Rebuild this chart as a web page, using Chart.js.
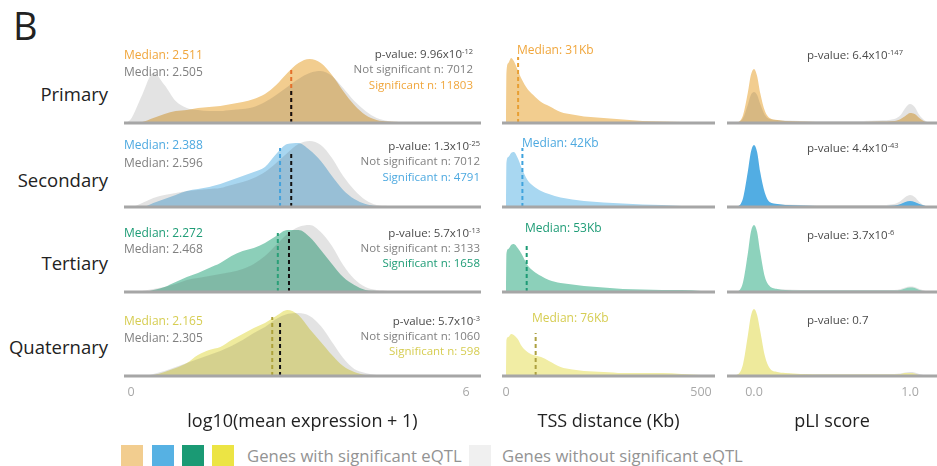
<!DOCTYPE html>
<html><head><meta charset="utf-8">
<script src="https://cdn.jsdelivr.net/npm/chart.js@4.4.0/dist/chart.umd.min.js"></script>
<style>
html,body{margin:0;padding:0;background:#fff;}
body{width:937px;height:466px;position:relative;overflow:hidden;font-family:"Open Sans",sans-serif;}
.t{position:absolute;white-space:nowrap;line-height:1;transform:translateY(-50%);}
.sup{font-size:7.5px;position:relative;top:-4px;}
.sq{position:absolute;width:22px;height:21px;top:445px;}
</style></head><body>
<script>
// ---------------- DATA ----------------
const rowNames = ["Primary", "Secondary", "Tertiary", "Quaternary"];

// log10(mean expression + 1) density grid
const exprX = [-0.1,0,0.2,0.4,0.6,0.8,1.0,1.2,1.4,1.6,1.8,2.0,2.2,2.4,2.6,2.8,3.0,3.2,3.4,3.6,3.8,4.0,4.2,4.4,4.6,4.8,5.0,5.5,6.0];
const exprSig = [
  [0,0,1,5,9,12,13,15,16,17,19,21,24,29,38,50,60,64,60,48,32,18,8,3,1.5,1,0.5,0,0],
  [0,0,0,4,8,12,16,18,20,23,27,31,35,40,53,63,64,57,46,31,17,8,3,1,0,0,0,0,0],
  [0,0,0,2,5,10,15,19,24,29,36,41,44,49,56,62,62,55,42,28,15,7,2,1,0,0,0,0,0],
  [0,0,0,1,4,8,13,21,26,29,36,42,48,53,60,66,61,47,34,21,10,4,1,0,0,0,0,0,0]
];
const exprNonSig = [
  [0,4,28,50,38,22,15,13,12,12,13,14,16,21,28,36,44,50,52,47,35,22,12,5,2,1,0.5,0,0],
  [0,0,4,9,12,14,16,17,18,19,22,25,29,35,44,54,63,66,62,49,31,17,7,2,1,0,0,0,0],
  [0,0,1,3,5,8,12,14,16,18,20,23,28,36,47,58,65,67,60,46,27,13,5,2,1,0,0,0,0],
  [0,0,0,2,5,9,13,17,21,25,30,36,43,49,57,62,63,60,50,34,18,7,3,1,0,0,0,0,0]
];
const exprMedianLabels = [["2.511","2.505"],["2.388","2.596"],["2.272","2.468"],["2.165","2.305"]];
const exprMedianPos = [[2.87,2.87],[2.67,2.87],[2.63,2.83],[2.53,2.67]];   // line positions
const exprMedianH = [[54,35],[59,54],[59,60],[59,54]];
const exprPvalues = [["9.96","-12"],["1.3","-25"],["5.7","-13"],["5.7","-3"]];
const nNonSig = [7012, 7012, 3133, 1060];
const nSig = [11803, 4791, 1658, 598];
const exprTicks = [0, 6];

// TSS distance (Kb) density grid
const tssX = [0,1,6,13,20,30,40,55,70,90,110,140,170,200,250,300,350,400,450,500,535];
const tssSig = [
  [0,50,60,65,62,53,44,34,28,21,17,11,8.5,6.5,5,3.5,2,1.5,1,0.5,0],
  [0,44,50,54,55,49,39,27,21,16,13,9.5,7.5,6,4.5,3.5,2.5,2,1,0.5,0],
  [0,38,43,47,48,44,38,27,21,16,12,9,7.5,6,4.5,3,2.5,2,2,1,0],
  [0,36,39,42,41,37,30,24,21,19,15,9,6.5,5,4,3,3,3,2,1,0]
];
const tssMedians = [31, 42, 53, 76];
const tssMedianH = [66, 59, 49, 43];
const tssTicks = [0, 500];

// pLI score density grid
const pliX = [-0.15,-0.1,-0.07,-0.04,-0.02,0,0.02,0.04,0.07,0.1,0.15,0.2,0.3,0.4,0.5,0.6,0.7,0.8,0.9,0.94,0.97,1.0,1.03,1.06,1.1,1.15];
const pliSig = [
  [0,1,8,30,48,54,47,30,12,5,3,2,1.5,1,1,1,1,1.5,2,4,7,10,9,5,1,0],
  [0,1,9,35,55,62,55,35,14,5,3,2,1.5,1,1,1,1,1,1.5,3,5,6,5,3,1,0],
  [0,1,10,38,60,67,60,40,15,6,3,2,1.5,1.5,1.5,1.5,1.5,1.5,1.5,2,3.5,4.5,4,2,0.5,0],
  [0,2,12,40,60,67,61,45,20,8,4,3,2,1.5,1.5,1.5,1.5,1.5,1.5,2,3,3,2.5,1,0,0]
];
const pliNonSig = [
  [0,1,5,18,28,31,28,19,8,4,3,2.5,2,2,2,2,2,2.5,4,8,15,19,16,8,2,0],
  [0,1,6,25,40,45,40,26,10,4,3,2.5,2,2,2,2,2,2,3,6,10,12,10,5,1,0],
  [0,1,6,25,40,45,40,27,10,4,3,2.5,2,2,2,2,2,2,2,3,4.5,5.5,5,3,1,0],
  [0,1,8,30,48,55,50,35,14,6,3.5,2.5,2,2,2,2,2,2,2,2.5,3.5,4,3.5,2,0.5,0]
];
const pliPvalues = [["6.4","-147"],["4.4","-43"],["3.7","-6"],["0.7",null]];
const pliTicks = [0, 1];

// ---------------- STYLE / LAYOUT ----------------
const FONT = '"Open Sans", sans-serif';
const rowBase = [123, 207, 292, 376];
const rowLabelY = [94, 180, 263, 347];
const AREA_H = 80;
const fillCol1 = ["#F2CD8F", "#A8D6F0", "#8CCFB9", "#EFEB9D"];
const fillCol2 = ["#F2CD8F", "#A8D7F1", "#8CD0BA", "#F1EDA4"];
const fillCol3 = ["#F2CD8F", "#52ADE3", "#8DD2BC", "#EEEA9C"];
const pliGrayOnTop = [true, false, false, false];
const medCol1 = ["#E4702A", "#45A2DC", "#2A9F78", "#ADA23A"];
const medCol2 = ["#E89F33", "#3FA3DD", "#1D9B75", "#ADA140"];
const textCol = ["#F0A63C", "#4DA9E0", "#1E9C76", "#D6CD52"];
const GRAY_OVER = "rgba(60,60,60,0.14)";

function pts(xs, ys) { return xs.map((x, i) => ({x: x, y: ys[i]})); }

function cell(o) {
  const W = o.right - o.left;
  const axisH = o.bottom ? 60 : 0;
  const padB = o.bottom ? 0 : 3;
  const H = AREA_H + axisH + padB;
  const cv = document.createElement('canvas');
  cv.width = W; cv.height = H;
  cv.style.cssText = `position:absolute;left:${o.left}px;top:${o.base - AREA_H}px;width:${W}px;height:${H}px;`;
  document.body.appendChild(cv);
  const ds = [];
  ds.push({data: [{x: o.xmin, y: 0}, {x: o.xmax, y: 0}], borderColor: '#A6A6A6', borderWidth: 3,
           pointRadius: 0, fill: false, clip: false, order: 0});
  o.medians.forEach(m => ds.push({data: [{x: m.x, y: 0}, {x: m.x, y: m.h}], borderColor: m.color,
           borderWidth: 2, borderDash: [4, 3], pointRadius: 0, fill: false, order: m.order}));
  if (o.nonsig) ds.push({data: pts(o.xs, o.nonsig), backgroundColor: GRAY_OVER, borderColor: 'rgba(0,0,0,0)',
           borderWidth: 0, pointRadius: 0, fill: 'origin', cubicInterpolationMode: 'monotone',
           order: o.grayOnTop === false ? 4 : 2});
  ds.push({data: pts(o.xs, o.sig), backgroundColor: o.fill, borderColor: 'rgba(0,0,0,0)', borderWidth: 0,
           pointRadius: 0, fill: 'origin', cubicInterpolationMode: 'monotone', order: 3});
  const xScale = {type: 'linear', min: o.xmin, max: o.xmax, display: !!o.bottom};
  if (o.bottom) {
    Object.assign(xScale, {
      grid: {display: false, drawTicks: false}, border: {display: false},
      ticks: {display: true, color: '#A8A8A8', font: {size: 12.5, family: FONT}, padding: 9,
              autoSkip: false, maxRotation: 0, callback: o.tickFmt},
      title: {display: true, text: o.title, color: '#222', font: {size: 18, family: FONT}, padding: {top: 0, bottom: 3}},
      afterBuildTicks: s => { s.ticks = o.ticks.map(v => ({value: v})); },
      afterFit: s => { s.height = axisH; s.paddingLeft = 0; s.paddingRight = 0; }
    });
  }
  new Chart(cv, {
    type: 'line',
    data: {datasets: ds},
    options: {
      responsive: false, animation: false, events: [],
      layout: {padding: {left: 0, right: 0, top: 0, bottom: padB}},
      plugins: {legend: {display: false}, tooltip: {enabled: false}},
      scales: {x: xScale, y: {min: 0, max: AREA_H, display: false}}
    }
  });
}

function txt(html, x, y, opts) {
  const d = document.createElement('div');
  d.className = 't';
  d.innerHTML = html;
  let css = `top:${y}px;font-size:${opts.size}px;color:${opts.color};`;
  if (opts.align === 'right') css += `right:${937 - x}px;text-align:right;`; else css += `left:${x}px;`;
  d.style.cssText += css;
  document.body.appendChild(d);
}
function sup(base, exp) { return exp ? `${base}x10<span class="sup">${exp}</span>` : base; }

for (let r = 0; r < 4; r++) {
  const bottom = r === 3;
  cell({left: 124, right: 481, base: rowBase[r], xmin: -0.125, xmax: 6.269, xs: exprX,
        sig: exprSig[r], nonsig: exprNonSig[r], fill: fillCol1[r],
        medians: [{x: exprMedianPos[r][0], h: exprMedianH[r][0], color: medCol1[r], order: 1.5},
                  {x: exprMedianPos[r][1], h: exprMedianH[r][1], color: '#111', order: 1}],
        bottom, ticks: exprTicks, tickFmt: v => String(v), title: 'log10(mean expression + 1)'});
  cell({left: 502, right: 715, base: rowBase[r], xmin: -10.3, xmax: 535.9, xs: tssX,
        sig: tssSig[r], nonsig: null, fill: fillCol2[r],
        medians: [{x: tssMedians[r], h: tssMedianH[r], color: medCol2[r], order: 1}],
        bottom, ticks: tssTicks, tickFmt: v => String(v), title: 'TSS distance (Kb)'});
  cell({left: 727, right: 937, base: rowBase[r], xmin: -0.173, xmax: 1.173, xs: pliX,
        sig: pliSig[r], nonsig: pliNonSig[r], fill: fillCol3[r], medians: [], grayOnTop: pliGrayOnTop[r],
        bottom, ticks: pliTicks, tickFmt: v => Number(v).toFixed(1), title: 'pLI score'});
}

// ---------------- TEXT ----------------
txt('B', 13, 25, {size: 38, color: '#222'});
rowNames.forEach((n, r) => txt(n, 108, rowLabelY[r], {size: 18.5, color: '#222', align: 'right'}));

const medY = [[55, 72], [145, 163], [233, 249], [321, 338]];
const rightX = [473, 480, 480, 480];
const rightY = [[54, 69, 84.5], [146, 161, 176.5], [233, 248, 262.5], [321, 336, 351]];
for (let r = 0; r < 4; r++) {
  txt('Median: ' + exprMedianLabels[r][0], 124, medY[r][0], {size: 12, color: textCol[r]});
  txt('Median: ' + exprMedianLabels[r][1], 124, medY[r][1], {size: 12, color: '#808080'});
  txt('p-value: ' + sup(exprPvalues[r][0], exprPvalues[r][1]), rightX[r], rightY[r][0], {size: 11.5, color: '#4A4A4A', align: 'right'});
  txt('Not significant n: ' + nNonSig[r], rightX[r], rightY[r][1], {size: 11.5, color: '#808080', align: 'right'});
  txt('Significant n: ' + nSig[r], rightX[r], rightY[r][2], {size: 11.5, color: textCol[r], align: 'right'});
}
const tssLabX = [517, 522, 525, 532];
const tssLabY = [50, 143, 227.5, 317.5];
for (let r = 0; r < 4; r++) txt('Median: ' + tssMedians[r] + 'Kb', tssLabX[r], tssLabY[r], {size: 12, color: textCol[r]});
const pliLabY = [55, 148, 235, 320];
for (let r = 0; r < 4; r++) txt('p-value: ' + sup(pliPvalues[r][0], pliPvalues[r][1]), 807, pliLabY[r], {size: 11.5, color: '#4A4A4A'});

// ---------------- LEGEND ----------------
const legendColors = ["#F2CD8F", "#56B1E3", "#1A9A74", "#ECE444"];
const legendX = [121, 152, 182, 212];
legendColors.forEach((c, i) => {
  const s = document.createElement('div'); s.className = 'sq';
  s.style.left = legendX[i] + 'px'; s.style.background = c; document.body.appendChild(s);
});
txt('Genes with significant eQTL', 247, 456, {size: 16.7, color: '#939393'});
const g = document.createElement('div'); g.className = 'sq'; g.style.left = '469px'; g.style.background = '#F0F0F0';
document.body.appendChild(g);
txt('Genes without significant eQTL', 502, 456, {size: 16.7, color: '#939393'});
</script>
</body></html>
